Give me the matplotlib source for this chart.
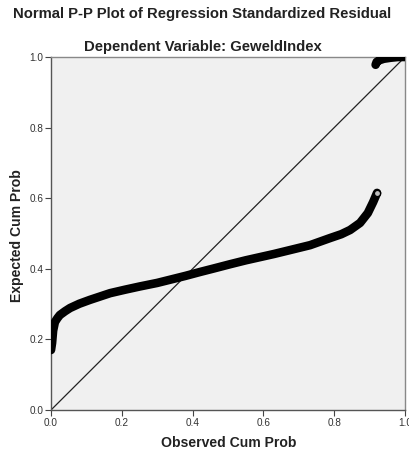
import matplotlib
matplotlib.use("Agg")
import matplotlib.pyplot as plt

plt.rcParams['font.family'] = ['Liberation Sans', 'DejaVu Sans']

# Lower branch of residual points (observed cum prob, expected cum prob)
obs_low = [0.000, 0.003, 0.006, 0.011, 0.018, 0.025, 0.040, 0.054, 0.080, 0.110,
           0.140, 0.167, 0.210, 0.251, 0.300, 0.336, 0.380, 0.421, 0.460, 0.506,
           0.550, 0.590, 0.630, 0.675, 0.732, 0.788, 0.820, 0.845, 0.873, 0.895,
           0.910, 0.921]
exp_low = [0.170, 0.190, 0.225, 0.249, 0.260, 0.269, 0.280, 0.289, 0.301, 0.312,
           0.322, 0.331, 0.341, 0.350, 0.360, 0.369, 0.380, 0.391, 0.401, 0.413,
           0.424, 0.433, 0.442, 0.453, 0.467, 0.487, 0.498, 0.510, 0.530, 0.558,
           0.589, 0.615]
# Upper branch
obs_high = [0.917, 0.920, 0.928, 0.940, 0.960, 0.980, 1.000]
exp_high = [0.978, 0.986, 0.991, 0.995, 0.998, 1.000, 1.000]

title = "Normal P-P Plot of Regression Standardized Residual"
subtitle = "Dependent Variable: GeweldIndex"
xlabel = "Observed Cum Prob"
ylabel = "Expected Cum Prob"
ticks = [0.0, 0.2, 0.4, 0.6, 0.8, 1.0]

W, H = 410, 453
fig = plt.figure(figsize=(W / 100, H / 100), dpi=100)
ax = fig.add_axes([51 / W, 43 / H, 354 / W, 353 / H])
ax.set_facecolor('#f0f0f0')

ax.plot([0, 1], [0, 1], color='#222222', lw=0.9, zorder=2)

ax.plot(obs_low, exp_low, color='black', lw=6.2, solid_capstyle='round',
        solid_joinstyle='round', zorder=3)
ax.plot(obs_high, exp_high, color='black', lw=6.2, solid_capstyle='round',
        solid_joinstyle='round', zorder=3)
ax.plot(obs_low[-1:], exp_low[-1:], 'o', ms=4.5, mfc='#bbbbbb', mec='black',
        mew=1.0, zorder=4)

ax.set_xlim(0, 1)
ax.set_ylim(0, 1)
ax.set_xticks(ticks)
ax.set_yticks(ticks)
ax.set_xticklabels([f"{t:.1f}" for t in ticks])
ax.set_yticklabels([f"{t:.1f}" for t in ticks])
ax.tick_params(direction='out', length=4, width=0.8, labelsize=7.2,
               labelcolor='#333333', color='#444444', pad=1.5)
for s in ['left', 'bottom']:
    ax.spines[s].set_color('#555555')
    ax.spines[s].set_linewidth(1.0)
for s in ['right', 'top']:
    ax.spines[s].set_color('#888888')
    ax.spines[s].set_linewidth(1.0)

fig.text(229 / W, 1 - 443 / H, xlabel, ha='center', va='center', fontsize=10.1,
         fontweight='bold', color='#222222')
fig.text(17 / W, 1 - 236 / H, ylabel, ha='center', va='center', rotation=90,
         fontsize=10.1, fontweight='bold', color='#222222')

fig.text(202 / W, 1 - 14 / H, title, ha='center', va='center', fontsize=10.7,
         fontweight='bold', color='#222222')
fig.text(202.5 / W, 1 - 47 / H, subtitle, ha='center', va='center', fontsize=10.7,
         fontweight='bold', color='#222222')

fig.savefig('out.png', dpi=100)
